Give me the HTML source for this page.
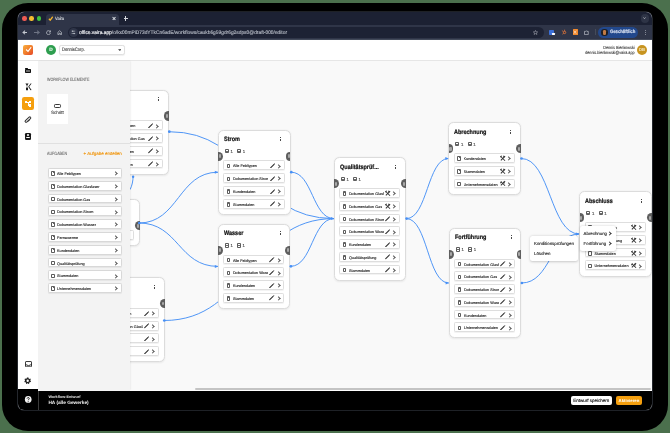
<!DOCTYPE html>
<html><head><meta charset="utf-8"><style>
*{margin:0;padding:0;box-sizing:border-box}
html,body{width:670px;height:433px;overflow:hidden;background:#4b704d;font-family:"Liberation Sans", sans-serif;text-rendering:geometricPrecision}
.a{position:absolute}
.frame{position:absolute;left:2px;top:3px;width:666px;height:428px;background:#000;border-radius:26px}
.win{position:absolute;left:18px;top:12px;width:634px;height:398px;border-radius:6px;overflow:hidden;background:#f9f9f9;box-shadow:0 0 0 0.6px #3d424c}
.node{position:absolute;background:#fff;border:0.7px solid #dcdcdc;border-radius:5.5px;box-shadow:0 0.5px 2px rgba(0,0,0,0.07)}
.ntitle{position:absolute;left:5px;top:5.5px;font-size:6.4px;font-weight:bold;color:#111;white-space:nowrap;transform:scaleX(0.86);transform-origin:0 0;-webkit-text-stroke:0.22px #111}
.kebab{position:absolute;width:1px;height:4.2px}
.kebab i{position:absolute;left:0;width:1px;height:1px;background:#4a4a4a}
.dbi{position:absolute;top:18.4px;width:4px;height:4.4px;border:0.6px solid #5e5e5e;border-radius:0.9px}
.dbi i{position:absolute;left:0;right:0;top:1.3px;height:0.6px;background:#6a6a6a}
.n1{position:absolute;top:18.6px;font-size:4.3px;color:#444;-webkit-text-stroke:0.1px #444}
.hl,.hr{position:absolute;top:20.9px;width:4.6px;height:9.2px;background:#5e5e5e;overflow:hidden}
.hl{left:-0.7px;border-radius:0 4.6px 4.6px 0}
.hr{right:-0.7px;border-radius:4.6px 0 0 4.6px}
.hin{position:absolute;top:2.8px;width:2.2px;height:3.6px;background:#a8a8a8;border-radius:1px}
.hl .hin{left:0.8px} .hr .hin{right:0.8px}
.row{position:absolute;left:4.5px;right:5.2px;height:9.8px;background:#fff;border:0.7px solid #dedede;border-radius:1.6px;box-shadow:0 0.5px 0.8px rgba(0,0,0,0.05)}
.clip{position:absolute;left:2.7px;top:2.3px;width:3.4px;height:4.6px;border:0.6px solid #5c5c5c;border-radius:0.9px}
.clip i{position:absolute;left:0.45px;right:0.45px;top:-0.5px;height:1px;background:#5c5c5c;border-radius:0.3px}
.rtxt{position:absolute;left:8.8px;top:3px;width:35.2px;overflow:hidden;font-size:3.75px;line-height:4.2px;color:#2e2e2e;white-space:nowrap;-webkit-text-stroke:0.14px #2e2e2e}
.xic{position:absolute;right:8.7px;top:1.9px;width:5px;height:5px}
.xic i{position:absolute;background:#333}
.xb1,.xb2{left:-0.3px;top:2px;width:5.6px;height:0.9px}
.xb1{transform:rotate(45deg)} .xb2{transform:rotate(-45deg)}
.xt1{left:0.1px;top:0.4px;width:1.9px;height:1px;transform:rotate(-45deg)}
.xt2{left:3px;top:0.4px;width:1.9px;height:1px;transform:rotate(45deg)}
.ric{position:absolute;right:8.6px;top:1.6px;width:5.4px;height:5.4px}
.chev{position:absolute;right:3.6px;top:3.2px;width:2.1px;height:2.1px;border-top:0.7px solid #5a5a5a;border-right:0.7px solid #5a5a5a;transform:rotate(45deg);box-sizing:content-box}
.task{position:absolute;left:47.6px;width:74.6px;height:9.8px;background:#fff;border:0.7px solid #d8d8d8;border-radius:1.6px;box-shadow:0 0.5px 0.8px rgba(0,0,0,0.06)}
.ttxt{position:absolute;left:8.5px;top:3px;font-size:3.75px;line-height:4.2px;color:#2e2e2e;white-space:nowrap;-webkit-text-stroke:0.14px #2e2e2e}
.tchev{position:absolute;right:4.4px;top:2.6px;width:2.7px;height:3.6px}
.menu{position:absolute;background:#fff;border-radius:2.5px;box-shadow:0 0.6px 2.5px rgba(0,0,0,0.2)}
.mi{position:absolute;font-size:4.35px;color:#2e2e2e;white-space:nowrap;-webkit-text-stroke:0.14px #2e2e2e}
</style></head><body>
<div class="frame"></div>
<div class="win"></div>
<div class="a" style="left:18px;top:12px;width:634px;height:398px;border-radius:6px;overflow:hidden;will-change:transform">
 <div class="a" style="left:-18px;top:-12px;width:670px;height:433px">
  <!-- tab strip -->
  <div class="a" style="left:18px;top:12px;width:634px;height:13px;background:#1c2133"></div>
  <div class="a" style="left:45.8px;top:14px;width:73.2px;height:11px;background:#2f3548;border-radius:3.5px 3.5px 0 0"></div>
  <div class="a" style="left:22px;top:16.2px;width:4.6px;height:4.6px;border-radius:50%;background:#ed5b53"></div>
  <div class="a" style="left:29.3px;top:16.2px;width:4.6px;height:4.6px;border-radius:50%;background:#f4bd30"></div>
  <div class="a" style="left:36.6px;top:16.2px;width:4.6px;height:4.6px;border-radius:50%;background:#3fc23f"></div>
  <svg class="a" style="left:47.8px;top:15.6px;width:5.6px;height:5px" viewBox="0 0 10 10"><path d="M1.2 5.6 L3.8 8.4 L9 1.5" stroke="#f7b52c" stroke-width="2.6" fill="none"/></svg>
  <div class="a" style="left:55.2px;top:16px;font-size:4.7px;color:#d6d9de;white-space:nowrap;transform:scaleX(0.86);transform-origin:0 0;-webkit-text-stroke:0.15px #d6d9de">Vaira</div>
  <div class="a" style="left:112.3px;top:18px;width:4.2px;height:0.8px;background:#d4d7dd;transform:rotate(45deg)"></div><div class="a" style="left:112.3px;top:18px;width:4.2px;height:0.8px;background:#d4d7dd;transform:rotate(-45deg)"></div>
  <div class="a" style="left:123.6px;top:18px;width:4.2px;height:0.9px;background:#d4d7dd"></div><div class="a" style="left:125.25px;top:16.4px;width:0.9px;height:4.2px;background:#d4d7dd"></div>
  <div class="a" style="left:640.6px;top:14.2px;width:8.6px;height:8.6px;border-radius:50%;background:#2e3446"></div>
  <svg class="a" style="left:643.4px;top:17.4px;width:3px;height:2.2px" viewBox="0 0 6 4"><path d="M0.6 0.6 L3 3.2 L5.4 0.6" stroke="#e0e2e6" stroke-width="1.2" fill="none"/></svg>
  <!-- toolbar -->
  <div class="a" style="left:18px;top:25px;width:634px;height:15px;background:#2f3548"></div>
  <div class="a" style="left:22.8px;top:31.7px;width:4.4px;height:0.9px;background:#c4c8d0"></div><div class="a" style="left:22.7px;top:30.6px;width:2.2px;height:2.2px;border-left:0.9px solid #c4c8d0;border-bottom:0.9px solid #c4c8d0;transform:rotate(45deg);box-sizing:content-box"></div>
  <div class="a" style="left:33.8px;top:31.7px;width:4.4px;height:0.9px;background:#6e7484"></div><div class="a" style="left:35.9px;top:30.6px;width:2.2px;height:2.2px;border-right:0.9px solid #6e7484;border-top:0.9px solid #6e7484;transform:rotate(45deg);box-sizing:content-box"></div>
  <svg class="a" style="left:45.6px;top:29.8px;width:5px;height:5px" viewBox="0 0 10 10"><path d="M8.2 3.2 A3.9 3.9 0 1 0 8.8 6" stroke="#c4c8d0" stroke-width="1.5" fill="none"/><path d="M9.2 0.8 V4 H6" stroke="#c4c8d0" stroke-width="1.5" fill="none"/></svg>
  <svg class="a" style="left:56.8px;top:29.6px;width:5.4px;height:5.2px" viewBox="0 0 10 10"><path d="M1.5 9 V4.5 L5 1.3 L8.5 4.5 V9 H6.2 V6.3 H3.8 V9 Z" stroke="#c4c8d0" stroke-width="1.3" fill="none"/></svg>
  <div class="a" style="left:68.2px;top:27px;width:475.6px;height:11.2px;border-radius:5.6px;background:#1d2234"></div>
  <div class="a" style="left:69.4px;top:28.2px;width:8.8px;height:8.8px;border-radius:50%;background:#2f3548"></div>
  <svg class="a" style="left:71.4px;top:30.3px;width:4.8px;height:4.6px" viewBox="0 0 10 10"><path d="M1 2.5 H9 M1 7.5 H9" stroke="#c4c8d0" stroke-width="1.2"/><circle cx="3.5" cy="2.5" r="1.5" fill="#c4c8d0"/><circle cx="6.5" cy="7.5" r="1.5" fill="#c4c8d0"/></svg>
  <div class="a" style="left:79.2px;top:29.9px;font-size:5.15px;color:#b4b9c3;white-space:nowrap;transform:scaleX(0.943);transform-origin:0 0;-webkit-text-stroke:0.14px #b4b9c3"><span style="color:#f2f3f6;-webkit-text-stroke:0.16px #f2f3f6">office.vaira.app</span>/o/kx00mPiD73dYTkCn6adE/workflows/caukb6g59gdr6g2sdps0@draft-000/editor</div>
  <svg class="a" style="left:533.3px;top:29.6px;width:5px;height:5px" viewBox="0 0 10 10"><path d="M5 0.8 L6.2 3.8 L9.4 3.9 L6.9 5.9 L7.8 9 L5 7.2 L2.2 9 L3.1 5.9 L0.6 3.9 L3.8 3.8 Z" stroke="#c4c8d0" stroke-width="0.9" fill="none"/></svg>
  <div class="a" style="left:549.4px;top:29.5px;width:5px;height:5.4px;background:#3b6fd8;border-radius:0.8px"></div>
  <div class="a" style="left:552.4px;top:32.6px;width:3px;height:2.6px;background:#fff;border-radius:0.4px"></div>
  <svg class="a" style="left:561px;top:29.3px;width:5.6px;height:5.8px" viewBox="0 0 10 10"><circle cx="6.4" cy="6" r="2.1" stroke="#f07b3a" stroke-width="1.4" fill="none"/><path d="M6.4 3.9 V1 M4.6 5 L1.6 2.5 M4.8 7.6 L2.4 9.2" stroke="#f07b3a" stroke-width="1.2"/></svg>
  <div class="a" style="left:572.6px;top:29.4px;width:5.4px;height:5.6px;background:#f28a2e;border-radius:0.6px"></div>
  <svg class="a" style="left:573.3px;top:30px;width:4px;height:4.4px" viewBox="0 0 8 8"><path d="M1.5 1 L6.5 7 M6.5 1 L1.5 7" stroke="#fff" stroke-width="1.1"/></svg>
  <svg class="a" style="left:584.2px;top:29.6px;width:5px;height:5.2px" viewBox="0 0 10 10"><path d="M1 2.5 H3.5 A1.3 1.3 0 0 1 6 2.5 H8.5 V9 H1 Z" stroke="#c4c8d0" stroke-width="1.3" fill="none"/></svg>
  <div class="a" style="left:594.6px;top:29.3px;width:0.6px;height:6px;background:#454b5a"></div>
  <div class="a" style="left:598.3px;top:27px;width:39.6px;height:11px;border-radius:5.5px;background:#22488c"></div>
  <div class="a" style="left:601.3px;top:29px;width:6.6px;height:6.6px;border-radius:50%;background:#1e1e22"></div><div class="a" style="left:603.4px;top:30px;width:2.6px;height:4.6px;border-radius:1.3px;background:#c07a45"></div>
  <div class="a" style="left:609.8px;top:29.6px;font-size:4.9px;color:#d4ddee;font-weight:bold;white-space:nowrap;transform:scaleX(0.86);transform-origin:0 0;-webkit-text-stroke:0.2px #d4ddee">Geschäftlich</div>
  <div class="a" style="left:644.5px;top:29.8px;width:1.1px;height:1.1px;border-radius:50%;background:#9ea3ad"></div><div class="a" style="left:644.5px;top:31.9px;width:1.1px;height:1.1px;border-radius:50%;background:#9ea3ad"></div><div class="a" style="left:644.5px;top:34px;width:1.1px;height:1.1px;border-radius:50%;background:#9ea3ad"></div>
  <div class="a" style="left:18px;top:39.2px;width:634px;height:0.8px;background:#434a5a"></div>

  <!-- canvas -->
  <div class="a" style="left:18px;top:60px;width:634px;height:330px;background:#f9f9f9"></div>
  <svg class="edges" style="position:absolute;left:0;top:0" width="670" height="433" viewBox="0 0 670 433"><path d="M169 131.7 C251.5 131.7 251.5 218.6 334 218.6" stroke="#4790f6" stroke-width="0.95" fill="none"/><path d="M139 223 C178.5 223 178.5 172.2 218 172.2" stroke="#4790f6" stroke-width="0.95" fill="none"/><path d="M139 223 C178.5 223 178.5 266.4 218 266.4" stroke="#4790f6" stroke-width="0.95" fill="none"/><path d="M164 320.5 C249.0 320.5 249.0 218.6 334 218.6" stroke="#4790f6" stroke-width="0.95" fill="none"/><path d="M291 172.2 C312.5 172.2 312.5 218.6 334 218.6" stroke="#4790f6" stroke-width="0.95" fill="none"/><path d="M290.6 266.3 C312.3 266.3 312.3 218.6 334 218.6" stroke="#4790f6" stroke-width="0.95" fill="none"/><path d="M406.3 218.6 C427.4 218.6 427.4 158.5 448.5 158.5" stroke="#4790f6" stroke-width="0.95" fill="none"/><path d="M406.3 218.6 C427.55 218.6 427.55 283 448.8 283" stroke="#4790f6" stroke-width="0.95" fill="none"/><path d="M521.2 158.5 C550.25 158.5 550.25 234 579.3 234" stroke="#4790f6" stroke-width="0.95" fill="none"/><path d="M521.6 283 C550.45 283 550.45 234 579.3 234" stroke="#4790f6" stroke-width="0.95" fill="none"/><path d="M133.1 176.5 C133 181 132.2 185 130.2 189.5" stroke="#4790f6" stroke-width="0.95" fill="none"/><circle cx="133.1" cy="176.8" r="1.2" fill="#4790f6"/></svg>
  <div class="node" style="left:96.2px;top:89.6px;width:72.8px;height:85.2px"><div class="ntitle">Gas</div><div class="kebab" style="left:61.10px;top:6.70px"><i style="top:0"></i><i style="top:1.6px"></i><i style="top:3.2px"></i></div><div class="dbi" style="left:6.2px"><i></i></div><div class="n1" style="left:11.8px">1</div><div class="dbi" style="left:18.4px"><i></i></div><div class="n1" style="left:24px">1</div><div class="hl"><div class="hin"></div></div><div class="hr"><div class="hin"></div></div><div class="row" style="top:29.8px"><div class="clip"><i></i></div><div class="rtxt">Alle Feldtypen</div><svg class="ric" viewBox="0 0 10 10"><path d="M1.4 8.6 L7.6 2.4" stroke="#333" stroke-width="2.1" stroke-linecap="round"/><path d="M8.1 1.7 L8.8 1" stroke="#333" stroke-width="1.5" stroke-linecap="round"/></svg><div class="chev"></div></div><div class="row" style="top:42.55px"><div class="clip"><i></i></div><div class="rtxt">Dokumentation Gas</div><svg class="ric" viewBox="0 0 10 10"><path d="M1.4 8.6 L7.6 2.4" stroke="#333" stroke-width="2.1" stroke-linecap="round"/><path d="M8.1 1.7 L8.8 1" stroke="#333" stroke-width="1.5" stroke-linecap="round"/></svg><div class="chev"></div></div><div class="row" style="top:55.3px"><div class="clip"><i></i></div><div class="rtxt">Kundendaten</div><svg class="ric" viewBox="0 0 10 10"><path d="M1.4 8.6 L7.6 2.4" stroke="#333" stroke-width="2.1" stroke-linecap="round"/><path d="M8.1 1.7 L8.8 1" stroke="#333" stroke-width="1.5" stroke-linecap="round"/></svg><div class="chev"></div></div><div class="row" style="top:68.05px"><div class="clip"><i></i></div><div class="rtxt">Stammdaten</div><svg class="ric" viewBox="0 0 10 10"><path d="M1.4 8.6 L7.6 2.4" stroke="#333" stroke-width="2.1" stroke-linecap="round"/><path d="M8.1 1.7 L8.8 1" stroke="#333" stroke-width="1.5" stroke-linecap="round"/></svg><div class="chev"></div></div></div><div class="node" style="left:67.2px;top:199.4px;width:72.8px;height:46.95px"><div class="ntitle">Start</div><div class="dbi" style="left:6.2px"><i></i></div><div class="n1" style="left:11.8px">1</div><div class="dbi" style="left:18.4px"><i></i></div><div class="n1" style="left:24px">1</div><div class="hl"><div class="hin"></div></div><div class="hr"><div class="hin"></div></div><div class="row" style="top:29.8px"><div class="clip"><i></i></div><div class="rtxt">Alle Feldtypen</div><svg class="ric" viewBox="0 0 10 10"><path d="M1.4 8.6 L7.6 2.4" stroke="#333" stroke-width="2.1" stroke-linecap="round"/><path d="M8.1 1.7 L8.8 1" stroke="#333" stroke-width="1.5" stroke-linecap="round"/></svg><div class="chev"></div></div></div><div class="node" style="left:92.2px;top:277.2px;width:72.8px;height:85.2px"><div class="ntitle">Glasfaser</div><div class="kebab" style="left:61.10px;top:7.10px"><i style="top:0"></i><i style="top:1.6px"></i><i style="top:3.2px"></i></div><div class="dbi" style="left:6.2px"><i></i></div><div class="n1" style="left:11.8px">1</div><div class="dbi" style="left:18.4px"><i></i></div><div class="n1" style="left:24px">1</div><div class="hl"><div class="hin"></div></div><div class="hr"><div class="hin"></div></div><div class="row" style="top:29.8px"><div class="clip"><i></i></div><div class="rtxt">Alle Feldtypen</div><svg class="ric" viewBox="0 0 10 10"><path d="M1.4 8.6 L7.6 2.4" stroke="#333" stroke-width="2.1" stroke-linecap="round"/><path d="M8.1 1.7 L8.8 1" stroke="#333" stroke-width="1.5" stroke-linecap="round"/></svg><div class="chev"></div></div><div class="row" style="top:42.55px"><div class="clip"><i></i></div><div class="rtxt">Dokumentation Glasfaser</div><svg class="ric" viewBox="0 0 10 10"><path d="M1.4 8.6 L7.6 2.4" stroke="#333" stroke-width="2.1" stroke-linecap="round"/><path d="M8.1 1.7 L8.8 1" stroke="#333" stroke-width="1.5" stroke-linecap="round"/></svg><div class="chev"></div></div><div class="row" style="top:55.3px"><div class="clip"><i></i></div><div class="rtxt">Kundendaten</div><svg class="ric" viewBox="0 0 10 10"><path d="M1.4 8.6 L7.6 2.4" stroke="#333" stroke-width="2.1" stroke-linecap="round"/><path d="M8.1 1.7 L8.8 1" stroke="#333" stroke-width="1.5" stroke-linecap="round"/></svg><div class="chev"></div></div><div class="row" style="top:68.05px"><div class="clip"><i></i></div><div class="rtxt">Stammdaten</div><svg class="ric" viewBox="0 0 10 10"><path d="M1.4 8.6 L7.6 2.4" stroke="#333" stroke-width="2.1" stroke-linecap="round"/><path d="M8.1 1.7 L8.8 1" stroke="#333" stroke-width="1.5" stroke-linecap="round"/></svg><div class="chev"></div></div></div><div class="node" style="left:217.8px;top:129.7px;width:73.0px;height:85.2px"><div class="ntitle">Strom</div><div class="kebab" style="left:61.50px;top:6.60px"><i style="top:0"></i><i style="top:1.6px"></i><i style="top:3.2px"></i></div><div class="dbi" style="left:6.2px"><i></i></div><div class="n1" style="left:11.8px">1</div><div class="dbi" style="left:18.4px"><i></i></div><div class="n1" style="left:24px">1</div><div class="hl"><div class="hin"></div></div><div class="hr"><div class="hin"></div></div><div class="row" style="top:29.8px"><div class="clip"><i></i></div><div class="rtxt">Alle Feldtypen</div><svg class="ric" viewBox="0 0 10 10"><path d="M1.4 8.6 L7.6 2.4" stroke="#333" stroke-width="2.1" stroke-linecap="round"/><path d="M8.1 1.7 L8.8 1" stroke="#333" stroke-width="1.5" stroke-linecap="round"/></svg><div class="chev"></div></div><div class="row" style="top:42.55px"><div class="clip"><i></i></div><div class="rtxt">Dokumentation Strom</div><svg class="ric" viewBox="0 0 10 10"><path d="M1.4 8.6 L7.6 2.4" stroke="#333" stroke-width="2.1" stroke-linecap="round"/><path d="M8.1 1.7 L8.8 1" stroke="#333" stroke-width="1.5" stroke-linecap="round"/></svg><div class="chev"></div></div><div class="row" style="top:55.3px"><div class="clip"><i></i></div><div class="rtxt">Kundendaten</div><svg class="ric" viewBox="0 0 10 10"><path d="M1.4 8.6 L7.6 2.4" stroke="#333" stroke-width="2.1" stroke-linecap="round"/><path d="M8.1 1.7 L8.8 1" stroke="#333" stroke-width="1.5" stroke-linecap="round"/></svg><div class="chev"></div></div><div class="row" style="top:68.05px"><div class="clip"><i></i></div><div class="rtxt">Stammdaten</div><svg class="ric" viewBox="0 0 10 10"><path d="M1.4 8.6 L7.6 2.4" stroke="#333" stroke-width="2.1" stroke-linecap="round"/><path d="M8.1 1.7 L8.8 1" stroke="#333" stroke-width="1.5" stroke-linecap="round"/></svg><div class="chev"></div></div></div><div class="node" style="left:217.6px;top:223.8px;width:72.79999999999998px;height:85.2px"><div class="ntitle">Wasser</div><div class="kebab" style="left:61.70px;top:6.50px"><i style="top:0"></i><i style="top:1.6px"></i><i style="top:3.2px"></i></div><div class="dbi" style="left:6.2px"><i></i></div><div class="n1" style="left:11.8px">1</div><div class="dbi" style="left:18.4px"><i></i></div><div class="n1" style="left:24px">1</div><div class="hl"><div class="hin"></div></div><div class="hr"><div class="hin"></div></div><div class="row" style="top:29.8px"><div class="clip"><i></i></div><div class="rtxt">Alle Feldtypen</div><svg class="ric" viewBox="0 0 10 10"><path d="M1.4 8.6 L7.6 2.4" stroke="#333" stroke-width="2.1" stroke-linecap="round"/><path d="M8.1 1.7 L8.8 1" stroke="#333" stroke-width="1.5" stroke-linecap="round"/></svg><div class="chev"></div></div><div class="row" style="top:42.55px"><div class="clip"><i></i></div><div class="rtxt">Dokumentation Wasser</div><svg class="ric" viewBox="0 0 10 10"><path d="M1.4 8.6 L7.6 2.4" stroke="#333" stroke-width="2.1" stroke-linecap="round"/><path d="M8.1 1.7 L8.8 1" stroke="#333" stroke-width="1.5" stroke-linecap="round"/></svg><div class="chev"></div></div><div class="row" style="top:55.3px"><div class="clip"><i></i></div><div class="rtxt">Kundendaten</div><svg class="ric" viewBox="0 0 10 10"><path d="M1.4 8.6 L7.6 2.4" stroke="#333" stroke-width="2.1" stroke-linecap="round"/><path d="M8.1 1.7 L8.8 1" stroke="#333" stroke-width="1.5" stroke-linecap="round"/></svg><div class="chev"></div></div><div class="row" style="top:68.05px"><div class="clip"><i></i></div><div class="rtxt">Stammdaten</div><svg class="ric" viewBox="0 0 10 10"><path d="M1.4 8.6 L7.6 2.4" stroke="#333" stroke-width="2.1" stroke-linecap="round"/><path d="M8.1 1.7 L8.8 1" stroke="#333" stroke-width="1.5" stroke-linecap="round"/></svg><div class="chev"></div></div></div><div class="node" style="left:333.6px;top:157.3px;width:72.59999999999997px;height:123.45px"><div class="ntitle">Qualitätsprüf...</div><div class="kebab" style="left:60.70px;top:7.00px"><i style="top:0"></i><i style="top:1.6px"></i><i style="top:3.2px"></i></div><div class="dbi" style="left:6.2px"><i></i></div><div class="n1" style="left:11.8px">1</div><div class="dbi" style="left:18.4px"><i></i></div><div class="n1" style="left:24px">1</div><div class="hl"><div class="hin"></div></div><div class="hr"><div class="hin"></div></div><div class="row" style="top:29.8px"><div class="clip"><i></i></div><div class="rtxt">Dokumentation Glasfaser</div><div class="xic"><i class="xb1"></i><i class="xb2"></i><i class="xt1"></i><i class="xt2"></i></div><div class="chev"></div></div><div class="row" style="top:42.55px"><div class="clip"><i></i></div><div class="rtxt">Dokumentation Gas</div><div class="xic"><i class="xb1"></i><i class="xb2"></i><i class="xt1"></i><i class="xt2"></i></div><div class="chev"></div></div><div class="row" style="top:55.3px"><div class="clip"><i></i></div><div class="rtxt">Dokumentation Strom</div><svg class="ric" viewBox="0 0 10 10"><path d="M1.4 8.6 L7.6 2.4" stroke="#333" stroke-width="2.1" stroke-linecap="round"/><path d="M8.1 1.7 L8.8 1" stroke="#333" stroke-width="1.5" stroke-linecap="round"/></svg><div class="chev"></div></div><div class="row" style="top:68.05px"><div class="clip"><i></i></div><div class="rtxt">Dokumentation Wasser</div><svg class="ric" viewBox="0 0 10 10"><path d="M1.4 8.6 L7.6 2.4" stroke="#333" stroke-width="2.1" stroke-linecap="round"/><path d="M8.1 1.7 L8.8 1" stroke="#333" stroke-width="1.5" stroke-linecap="round"/></svg><div class="chev"></div></div><div class="row" style="top:80.8px"><div class="clip"><i></i></div><div class="rtxt">Kundendaten</div><svg class="ric" viewBox="0 0 10 10"><path d="M1.4 8.6 L7.6 2.4" stroke="#333" stroke-width="2.1" stroke-linecap="round"/><path d="M8.1 1.7 L8.8 1" stroke="#333" stroke-width="1.5" stroke-linecap="round"/></svg><div class="chev"></div></div><div class="row" style="top:93.55px"><div class="clip"><i></i></div><div class="rtxt">Qualitätsprüfung</div><svg class="ric" viewBox="0 0 10 10"><path d="M1.4 8.6 L7.6 2.4" stroke="#333" stroke-width="2.1" stroke-linecap="round"/><path d="M8.1 1.7 L8.8 1" stroke="#333" stroke-width="1.5" stroke-linecap="round"/></svg><div class="chev"></div></div><div class="row" style="top:106.3px"><div class="clip"><i></i></div><div class="rtxt">Stammdaten</div><svg class="ric" viewBox="0 0 10 10"><path d="M1.4 8.6 L7.6 2.4" stroke="#333" stroke-width="2.1" stroke-linecap="round"/><path d="M8.1 1.7 L8.8 1" stroke="#333" stroke-width="1.5" stroke-linecap="round"/></svg><div class="chev"></div></div></div><div class="node" style="left:448.3px;top:122.3px;width:72.69999999999999px;height:72.45px"><div class="ntitle">Abrechnung</div><div class="kebab" style="left:61.00px;top:7.00px"><i style="top:0"></i><i style="top:1.6px"></i><i style="top:3.2px"></i></div><div class="dbi" style="left:6.2px"><i></i></div><div class="n1" style="left:11.8px">1</div><div class="dbi" style="left:18.4px"><i></i></div><div class="n1" style="left:24px">1</div><div class="hl"><div class="hin"></div></div><div class="hr"><div class="hin"></div></div><div class="row" style="top:29.8px"><div class="clip"><i></i></div><div class="rtxt">Kundendaten</div><div class="xic"><i class="xb1"></i><i class="xb2"></i><i class="xt1"></i><i class="xt2"></i></div><div class="chev"></div></div><div class="row" style="top:42.55px"><div class="clip"><i></i></div><div class="rtxt">Stammdaten</div><div class="xic"><i class="xb1"></i><i class="xb2"></i><i class="xt1"></i><i class="xt2"></i></div><div class="chev"></div></div><div class="row" style="top:55.3px"><div class="clip"><i></i></div><div class="rtxt">Unternehmensdaten</div><div class="xic"><i class="xb1"></i><i class="xb2"></i><i class="xt1"></i><i class="xt2"></i></div><div class="chev"></div></div></div><div class="node" style="left:448.7px;top:227.8px;width:72.80000000000001px;height:110.7px"><div class="ntitle">Fortführung</div><div class="kebab" style="left:61.60px;top:6.50px"><i style="top:0"></i><i style="top:1.6px"></i><i style="top:3.2px"></i></div><div class="dbi" style="left:6.2px"><i></i></div><div class="n1" style="left:11.8px">1</div><div class="dbi" style="left:18.4px"><i></i></div><div class="n1" style="left:24px">1</div><div class="hl"><div class="hin"></div></div><div class="hr"><div class="hin"></div></div><div class="row" style="top:29.8px"><div class="clip"><i></i></div><div class="rtxt">Dokumentation Glasfaser</div><svg class="ric" viewBox="0 0 10 10"><path d="M1.4 8.6 L7.6 2.4" stroke="#333" stroke-width="2.1" stroke-linecap="round"/><path d="M8.1 1.7 L8.8 1" stroke="#333" stroke-width="1.5" stroke-linecap="round"/></svg><div class="chev"></div></div><div class="row" style="top:42.55px"><div class="clip"><i></i></div><div class="rtxt">Dokumentation Gas</div><svg class="ric" viewBox="0 0 10 10"><path d="M1.4 8.6 L7.6 2.4" stroke="#333" stroke-width="2.1" stroke-linecap="round"/><path d="M8.1 1.7 L8.8 1" stroke="#333" stroke-width="1.5" stroke-linecap="round"/></svg><div class="chev"></div></div><div class="row" style="top:55.3px"><div class="clip"><i></i></div><div class="rtxt">Dokumentation Strom</div><svg class="ric" viewBox="0 0 10 10"><path d="M1.4 8.6 L7.6 2.4" stroke="#333" stroke-width="2.1" stroke-linecap="round"/><path d="M8.1 1.7 L8.8 1" stroke="#333" stroke-width="1.5" stroke-linecap="round"/></svg><div class="chev"></div></div><div class="row" style="top:68.05px"><div class="clip"><i></i></div><div class="rtxt">Dokumentation Wasser</div><svg class="ric" viewBox="0 0 10 10"><path d="M1.4 8.6 L7.6 2.4" stroke="#333" stroke-width="2.1" stroke-linecap="round"/><path d="M8.1 1.7 L8.8 1" stroke="#333" stroke-width="1.5" stroke-linecap="round"/></svg><div class="chev"></div></div><div class="row" style="top:80.8px"><div class="clip"><i></i></div><div class="rtxt">Kundendaten</div><svg class="ric" viewBox="0 0 10 10"><path d="M1.4 8.6 L7.6 2.4" stroke="#333" stroke-width="2.1" stroke-linecap="round"/><path d="M8.1 1.7 L8.8 1" stroke="#333" stroke-width="1.5" stroke-linecap="round"/></svg><div class="chev"></div></div><div class="row" style="top:93.55px"><div class="clip"><i></i></div><div class="rtxt">Unternehmensdaten</div><svg class="ric" viewBox="0 0 10 10"><path d="M1.4 8.6 L7.6 2.4" stroke="#333" stroke-width="2.1" stroke-linecap="round"/><path d="M8.1 1.7 L8.8 1" stroke="#333" stroke-width="1.5" stroke-linecap="round"/></svg><div class="chev"></div></div></div><div class="node" style="left:579.2px;top:191.4px;width:72.79999999999995px;height:85.2px"><div class="ntitle">Abschluss</div><div class="kebab" style="left:61.10px;top:6.90px"><i style="top:0"></i><i style="top:1.6px"></i><i style="top:3.2px"></i></div><div class="dbi" style="left:6.2px"><i></i></div><div class="n1" style="left:11.8px">1</div><div class="dbi" style="left:18.4px"><i></i></div><div class="n1" style="left:24px">1</div><div class="hl"><div class="hin"></div></div><div class="hr"><div class="hin"></div></div><div class="row" style="top:29.8px"><div class="clip"><i></i></div><div class="rtxt">Kundendaten</div><div class="xic"><i class="xb1"></i><i class="xb2"></i><i class="xt1"></i><i class="xt2"></i></div><div class="chev"></div></div><div class="row" style="top:42.55px"><div class="clip"><i></i></div><div class="rtxt">Qualitätsprüfung</div><div class="xic"><i class="xb1"></i><i class="xb2"></i><i class="xt1"></i><i class="xt2"></i></div><div class="chev"></div></div><div class="row" style="top:55.3px"><div class="clip"><i></i></div><div class="rtxt">Stammdaten</div><div class="xic"><i class="xb1"></i><i class="xb2"></i><i class="xt1"></i><i class="xt2"></i></div><div class="chev"></div></div><div class="row" style="top:68.05px"><div class="clip"><i></i></div><div class="rtxt">Unternehmensdaten</div><div class="xic"><i class="xb1"></i><i class="xb2"></i><i class="xt1"></i><i class="xt2"></i></div><div class="chev"></div></div></div>
  <svg style="position:absolute;left:0;top:0" width="670" height="433" viewBox="0 0 670 433"><circle cx="169.3" cy="131.7" r="1.35" fill="#4790f6"/><circle cx="139.3" cy="223" r="1.35" fill="#4790f6"/><circle cx="164.3" cy="320.5" r="1.35" fill="#4790f6"/><circle cx="291.3" cy="172.2" r="1.35" fill="#4790f6"/><circle cx="290.90000000000003" cy="266.3" r="1.35" fill="#4790f6"/><circle cx="406.6" cy="218.6" r="1.35" fill="#4790f6"/><circle cx="521.5" cy="158.5" r="1.35" fill="#4790f6"/><circle cx="521.9" cy="283" r="1.35" fill="#4790f6"/><path d="M330.8 217.1 L334.2 218.6 L330.8 220.1 Z" fill="#4790f6"/><path d="M214.8 170.7 L218.2 172.2 L214.8 173.7 Z" fill="#4790f6"/><path d="M214.8 264.9 L218.2 266.4 L214.8 267.9 Z" fill="#4790f6"/><path d="M445.3 157.0 L448.7 158.5 L445.3 160.0 Z" fill="#4790f6"/><path d="M445.6 281.5 L449.0 283 L445.6 284.5 Z" fill="#4790f6"/><path d="M576.0999999999999 232.5 L579.5 234 L576.0999999999999 235.5 Z" fill="#4790f6"/></svg>

  <!-- header -->
  <div class="a" style="left:18px;top:40px;width:634px;height:21px;background:#fff;border-bottom:0.8px solid #e6e6e6"></div>
  <div class="a" style="left:23px;top:45px;width:10.2px;height:10.2px;border-radius:2px;background:linear-gradient(135deg,#f8b040 0%,#f07a2a 55%,#e4452a 100%)"></div>
  <svg class="a" style="left:24.6px;top:46.4px;width:7px;height:7px" viewBox="0 0 10 10"><path d="M1.6 5 L4.3 7.6 L8.8 1.8" stroke="#fff" stroke-width="1.7" fill="none"/></svg>
  <div class="a" style="left:45.8px;top:45px;width:10.4px;height:10.4px;border-radius:50%;background:#2e9e4f"></div>
  <div class="a" style="left:49.3px;top:47.5px;font-size:4.8px;color:#f0fbf3;font-weight:bold;-webkit-text-stroke:0.1px #f0fbf3">D</div>
  <div class="a" style="left:58.5px;top:45.3px;width:66.3px;height:10px;border:0.7px solid #e0e0e0;border-radius:2.2px;background:#fff;box-shadow:0 0.4px 1px rgba(0,0,0,0.06)"></div>
  <div class="a" style="left:62.2px;top:48.4px;font-size:4.9px;color:#3a3a3a;white-space:nowrap;transform:scaleX(0.84);transform-origin:0 0;-webkit-text-stroke:0.12px #3a3a3a">DennisCorp.</div>
  <svg class="a" style="left:117.6px;top:49.1px;width:3.6px;height:2.4px" viewBox="0 0 10 7"><path d="M0 0 L10 0 L5 7Z" fill="#666"/></svg>
  <div class="a" style="left:560px;top:44.9px;width:74.6px;font-size:4.4px;color:#3a3a3a;text-align:right;line-height:5.3px;white-space:nowrap;transform:scaleX(0.85);transform-origin:100% 0;-webkit-text-stroke:0.1px #3a3a3a">Dennis Bienkowski<br>dennis.bienkowski@vaira.app</div>
  <div class="a" style="left:636.8px;top:44.6px;width:10.6px;height:10.6px;border-radius:50%;background:#c89420"></div>
  <div class="a" style="left:636.8px;top:47.4px;width:10.6px;text-align:center;font-size:4.3px;color:#f4e6c0;font-weight:bold">DB</div>

  <!-- sidebar -->
  <div class="a" style="left:18px;top:61px;width:20px;height:328px;background:#fff"></div>
  <div class="a" style="left:24.9px;top:68.6px;width:6.3px;height:4.5px;background:#111;border-radius:0.7px"></div>
  <div class="a" style="left:24.9px;top:67.8px;width:2.8px;height:1.4px;background:#111;border-radius:0.6px 0.6px 0 0"></div>
  <div class="a" style="left:26px;top:70.2px;width:3.6px;height:2px;background:#6a6a6a;border-radius:0.3px"></div>
  <svg class="a" style="left:24.6px;top:83.2px;width:7px;height:7.6px" viewBox="0 0 7 7.6"><path d="M0.4 0.4 H3.6 L2.4 2.2 V3.4 H1.6 V2.2 Z" fill="#1a1a1a"/><path d="M1 4.4 H3 V7.2 H1 Z" fill="#1a1a1a"/><path d="M6.6 0.6 L4.2 3.8 L6.6 7 L5.6 7.2 L3.2 3.8 L5.6 0.4 Z" fill="#1a1a1a"/></svg>
  <div class="a" style="left:21.9px;top:97.2px;width:12.3px;height:12.6px;border-radius:2.2px;background:#f59f0e"></div>
  <div class="a" style="left:24.8px;top:101.2px;width:2.6px;height:2.2px;background:#fff;border-radius:0.3px"></div>
  <div class="a" style="left:28.6px;top:100.6px;width:2.6px;height:2.2px;background:#fff;border-radius:0.3px"></div>
  <div class="a" style="left:28.6px;top:104.4px;width:2.6px;height:2.2px;background:#fff;border-radius:0.3px"></div>
  <div class="a" style="left:27.2px;top:101.9px;width:1.6px;height:0.7px;background:#fff"></div>
  <div class="a" style="left:27.5px;top:102px;width:0.7px;height:3.4px;background:#fff"></div>
  <div class="a" style="left:27.5px;top:105px;width:1.3px;height:0.7px;background:#fff"></div>
  <div class="a" style="left:24.1px;top:118.4px;width:8.2px;height:3.3px;border:0.9px solid #333;border-radius:1.65px;transform:rotate(-42deg)"></div><div class="a" style="left:26.6px;top:119.6px;width:3.2px;height:0.8px;background:#333;transform:rotate(-42deg)"></div>
  <div class="a" style="left:25.1px;top:133px;width:6.1px;height:6.5px;background:#1a1a1a;border-radius:1.2px"></div>
  <div class="a" style="left:27.25px;top:134.3px;width:1.8px;height:1.8px;background:#fff;border-radius:50%"></div>
  <div class="a" style="left:26.3px;top:136.7px;width:3.7px;height:1.5px;background:#fff;border-radius:1.2px 1.2px 0 0"></div>
  <svg class="a" style="left:24.6px;top:360.6px;width:7px;height:6.4px" viewBox="0 0 10 9"><rect x="0.7" y="0.7" width="8.6" height="7.6" rx="0.8" fill="none" stroke="#222" stroke-width="1.3"/><path d="M0.7 5.4 H3.2 V6.6 H6.8 V5.4 H9.3" stroke="#222" stroke-width="1.1" fill="none"/></svg>
  <svg class="a" style="left:24.4px;top:377px;width:7.4px;height:7.4px" viewBox="0 0 10 10"><path d="M5 0.6 L6 0.8 L6.3 2 L7.4 2.6 L8.5 2.1 L9.2 3 L8.6 4.1 L8.7 5 L9.5 5.9 L9 6.9 L7.8 7 L7 7.9 L7 9.1 L6 9.4 L5.2 8.6 H4.6 L3.8 9.4 L2.8 9.1 L2.8 7.9 L2 7.1 L0.8 7 L0.5 6 L1.3 5.1 L1.3 4.1 L0.7 3 L1.4 2.1 L2.6 2.5 L3.6 1.9 L4 0.8 Z" fill="#222"/><circle cx="5" cy="5" r="1.6" fill="#fff"/></svg>

  <!-- panel -->
  <div class="a" style="left:38px;top:61px;width:92.4px;height:329px;background:#f3f3f3;box-shadow:0.6px 0 1.6px rgba(0,0,0,0.09)"></div>
  <div class="a" style="left:47px;top:76.6px;font-size:4.5px;color:#666;white-space:nowrap;transform:scaleX(0.81);transform-origin:0 0;-webkit-text-stroke:0.08px #666">WORKFLOW ELEMENTE</div>
  <div class="a" style="left:47px;top:93.9px;width:20.9px;height:30px;background:#fff"></div>
  <div class="a" style="left:54.1px;top:103.8px;width:6.8px;height:3.8px;border:0.8px solid #3a3a3a;border-radius:1.3px"></div>
  <div class="a" style="left:51.1px;top:109.6px;font-size:4.5px;color:#333;white-space:nowrap;transform:scaleX(0.99);transform-origin:0 0;-webkit-text-stroke:0.08px #333">Schritt</div>
  <div class="a" style="left:38px;top:142.7px;width:92.4px;height:0.7px;background:#e0e0e0"></div>
  <div class="a" style="left:47px;top:150.5px;font-size:4.5px;color:#666;white-space:nowrap;transform:scaleX(0.81);transform-origin:0 0;-webkit-text-stroke:0.08px #666">AUFGABEN</div>
  <div class="a" style="left:83.6px;top:150.6px;font-size:4.45px;color:#f0960e;white-space:nowrap;-webkit-text-stroke:0.14px #f0960e">+ Aufgabe erstellen</div>
  <div class="task" style="top:168.0px"><div class="clip"><i></i></div><div class="ttxt">Alle Feldtypen</div><div class="chev" style="right:4.6px"></div></div><div class="task" style="top:180.8px"><div class="clip"><i></i></div><div class="ttxt">Dokumentation Glasfaser</div><div class="chev" style="right:4.6px"></div></div><div class="task" style="top:193.6px"><div class="clip"><i></i></div><div class="ttxt">Dokumentation Gas</div><div class="chev" style="right:4.6px"></div></div><div class="task" style="top:206.4px"><div class="clip"><i></i></div><div class="ttxt">Dokumentation Strom</div><div class="chev" style="right:4.6px"></div></div><div class="task" style="top:219.2px"><div class="clip"><i></i></div><div class="ttxt">Dokumentation Wasser</div><div class="chev" style="right:4.6px"></div></div><div class="task" style="top:232.0px"><div class="clip"><i></i></div><div class="ttxt">Fernwaerme</div><div class="chev" style="right:4.6px"></div></div><div class="task" style="top:244.8px"><div class="clip"><i></i></div><div class="ttxt">Kundendaten</div><div class="chev" style="right:4.6px"></div></div><div class="task" style="top:257.6px"><div class="clip"><i></i></div><div class="ttxt">Qualitätsprüfung</div><div class="chev" style="right:4.6px"></div></div><div class="task" style="top:270.4px"><div class="clip"><i></i></div><div class="ttxt">Stammdaten</div><div class="chev" style="right:4.6px"></div></div><div class="task" style="top:283.2px"><div class="clip"><i></i></div><div class="ttxt">Unternehmensdaten</div><div class="chev" style="right:4.6px"></div></div>

  <!-- bottom bar -->
  <div class="a" style="left:130.4px;top:390px;width:522px;height:1px;background:#fff"></div>
  <div class="a" style="left:195.2px;top:387.9px;width:456px;height:2.4px;border-radius:1.2px;background:#c4c4c4"></div>
  <div class="a" style="left:18px;top:391px;width:634px;height:20px;background:#000"></div>
  <div class="a" style="left:18px;top:389px;width:20px;height:3px;background:#000"></div>
  <div class="a" style="left:38px;top:391px;width:0.7px;height:20px;background:#3a3a3a"></div>
  <svg class="a" style="left:24px;top:395px;width:9px;height:9px" viewBox="0 0 9 9"><circle cx="4.2" cy="4.4" r="3.35" fill="#f4f4f4"/><path d="M3.1 3.6 C3.1 2.2 5.3 2.2 5.3 3.5 C5.3 4.3 4.2 4.4 4.2 5.2" stroke="#111" stroke-width="0.9" fill="none"/><circle cx="4.2" cy="6.2" r="0.5" fill="#111"/></svg>
  
  <div class="a" style="left:48.4px;top:394.9px;font-size:3.75px;color:#e6e6e6;font-weight:bold;white-space:nowrap">Workflow-Entwurf</div>
  <div class="a" style="left:48.4px;top:401.2px;font-size:4.75px;color:#f6f6f6;font-weight:bold;white-space:nowrap">HA (alle Gewerke)</div>
  <div class="a" style="left:570.8px;top:395.7px;width:41.1px;height:9.8px;border-radius:2px;background:#fff"></div>
  <div class="a" style="left:570.8px;top:398.1px;width:41.1px;font-size:4.5px;color:#1a1a1a;text-align:center;white-space:nowrap;-webkit-text-stroke:0.15px #1a1a1a">Entwurf speichern</div>
  <div class="a" style="left:616.1px;top:395.7px;width:25.7px;height:9.8px;border-radius:2px;background:#f59f0e"></div>
  <div class="a" style="left:616.1px;top:398.3px;width:25.7px;font-size:4.3px;color:#fff;text-align:center;font-weight:bold">Aktivieren</div>

  <!-- context menus -->
  <div class="menu" style="left:530.2px;top:235.9px;width:47.5px;height:25.5px"></div>
  <div class="mi" style="left:534px;top:240.7px">Konditionsprüfungen</div>
  <div class="mi" style="left:534px;top:251.4px">Löschen</div>
  <div class="menu" style="left:579.8px;top:225.8px;width:36.3px;height:24.9px"></div>
  
  <div class="mi" style="left:583.6px;top:230.6px">Abrechnung</div>
  <div class="mi" style="left:583.6px;top:240.8px">Fortführung</div>
  <div class="a" style="left:607.6px;top:232.2px;width:2px;height:2px;border-top:0.8px solid #333;border-right:0.8px solid #333;transform:rotate(45deg);box-sizing:content-box"></div>
  <div class="a" style="left:607.6px;top:242.1px;width:2px;height:2px;border-top:0.8px solid #333;border-right:0.8px solid #333;transform:rotate(45deg);box-sizing:content-box"></div>
 </div>
</div>
</body></html>
